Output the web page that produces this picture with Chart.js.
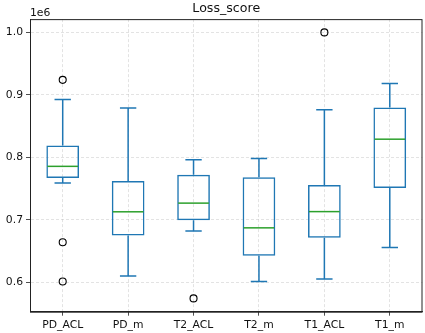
<!DOCTYPE html>
<html>
<head>
<meta charset="utf-8">
<script src="https://cdn.jsdelivr.net/npm/chart.js@4.4.1/dist/chart.umd.min.js"></script>
<style>
  html, body { margin: 0; padding: 0; background: #fff; }
  #wrap { width: 425px; height: 333px; }
</style>
</head>
<body>
<div id="wrap"><canvas id="lossChart"></canvas></div>
<script>
// Données (unités brutes, axe en 1e6)
const categories  = ['PD_ACL', 'PD_m', 'T2_ACL', 'T2_m', 'T1_ACL', 'T1_m'];
const whiskerLow  = [759000, 610000, 682000, 601000, 605000, 655400];
const quart1      = [767000, 674600, 699000, 642500, 671000, 750700];
const medians     = [785500, 712700, 726600, 687000, 713000, 829000];
const quart3      = [819000, 762000, 772000, 768000, 755500, 879600];
const whiskerHigh = [892500, 879000, 796000, 798000, 876000, 918000];
const fliers      = [[924000, 664000, 601000], [], [574000], [], [1000000], []];
const yTicks      = [600000, 700000, 800000, 900000, 1000000];

const boxColor = '#1f77b4';
const medianColor = '#2ca02c';
const gridColor = 'rgba(176, 176, 176, 0.45)';
const spineColor = '#222';
const fontFamily = '"DejaVu Sans", sans-serif';

// Moustaches, capuchons, médianes et cadre
const boxPlotExtras = {
    id: 'boxPlotExtras',
    afterDatasetsDraw(chart) {
        const { ctx, scales: { x, y } } = chart;
        const bars = chart.getDatasetMeta(0).data;
        ctx.save();
        bars.forEach((bar, i) => {
            const cx = x.getPixelForValue(i);
            const half = bar.width / 2;
            const cap = bar.width / 4;
            ctx.lineWidth = 1.5;
            ctx.strokeStyle = boxColor;
            ctx.beginPath();
            ctx.moveTo(cx, y.getPixelForValue(quart3[i]));
            ctx.lineTo(cx, y.getPixelForValue(whiskerHigh[i]));
            ctx.moveTo(cx, y.getPixelForValue(quart1[i]));
            ctx.lineTo(cx, y.getPixelForValue(whiskerLow[i]));
            ctx.moveTo(cx - cap, y.getPixelForValue(whiskerHigh[i]));
            ctx.lineTo(cx + cap, y.getPixelForValue(whiskerHigh[i]));
            ctx.moveTo(cx - cap, y.getPixelForValue(whiskerLow[i]));
            ctx.lineTo(cx + cap, y.getPixelForValue(whiskerLow[i]));
            ctx.stroke();
            ctx.strokeStyle = medianColor;
            ctx.beginPath();
            ctx.moveTo(cx - half + 1, y.getPixelForValue(medians[i]));
            ctx.lineTo(cx + half - 1, y.getPixelForValue(medians[i]));
            ctx.stroke();
        });
        ctx.restore();
    },
    afterDraw(chart) {
        const { ctx, chartArea } = chart;
        ctx.save();
        ctx.strokeStyle = spineColor;
        ctx.lineWidth = 1;
        ctx.strokeRect(chartArea.left + 0.5, chartArea.top + 0.5,
            chartArea.right - chartArea.left - 1, chartArea.bottom - chartArea.top);
        ctx.fillStyle = '#111';
        ctx.font = '10.8px ' + fontFamily;
        ctx.textAlign = 'left';
        ctx.textBaseline = 'alphabetic';
        ctx.fillText('1e6', chartArea.left, chartArea.top - 3);
        ctx.restore();
    }
};

const flierPoints = [];
fliers.forEach((list, i) => list.forEach(v => flierPoints.push({ x: categories[i], y: v })));

new Chart(document.getElementById('lossChart').getContext('2d'), {
    type: 'bar',
    data: {
        labels: categories,
        datasets: [
            {
                label: 'box',
                data: categories.map((c, i) => [quart1[i], quart3[i]]),
                backgroundColor: 'rgba(0,0,0,0)',
                borderColor: boxColor,
                borderWidth: 1.5,
                borderSkipped: false,
                barPercentage: 0.5,
                categoryPercentage: 1.0
            },
            {
                type: 'line',
                label: 'fliers',
                data: flierPoints,
                showLine: false,
                pointStyle: 'circle',
                pointRadius: 3.5,
                pointBorderWidth: 1.1,
                pointBorderColor: '#000',
                pointBackgroundColor: 'rgba(0,0,0,0)'
            }
        ]
    },
    options: {
        responsive: true,
        maintainAspectRatio: false,
        animation: false,
        layout: { autoPadding: false, padding: { right: 2.5, left: 0, bottom: 0 } },
        scales: {
            x: {
                offset: true,
                grid: { offset: false, color: gridColor, lineWidth: 0.8, tickColor: spineColor, tickLength: 4 },
                border: { color: spineColor, width: 1, dash: [3, 2] },
                ticks: { color: '#111', padding: 3, maxRotation: 0, font: { family: fontFamily, size: 10.8 } },
                afterFit: (axis) => {
                    axis.height = 21.3;
                    axis.paddingLeft = 0;
                    axis.paddingRight = 0;
                }
            },
            y: {
                min: 552700,
                max: 1021300,
                afterBuildTicks: (axis) => { axis.ticks = yTicks.map(v => ({ value: v })); },
                grid: { color: gridColor, lineWidth: 0.8, tickColor: spineColor, tickLength: 4 },
                border: { color: spineColor, width: 1, dash: [3, 2] },
                ticks: {
                    color: '#111',
                    padding: 3,
                    font: { family: fontFamily, size: 10.8 },
                    callback: (value) => (value / 1e6).toFixed(1)
                },
                afterFit: (axis) => {
                    axis.width = 30;
                    axis.paddingTop = 0;
                    axis.paddingBottom = 0;
                }
            }
        },
        plugins: {
            legend: { display: false },
            tooltip: { enabled: false },
            title: {
                display: true,
                text: 'Loss_score',
                fullSize: false,
                color: '#111',
                font: { family: fontFamily, size: 12.6, weight: 'normal' },
                padding: { top: 1, bottom: 3 }
            }
        }
    },
    plugins: [boxPlotExtras]
});
</script>
</body>
</html>
